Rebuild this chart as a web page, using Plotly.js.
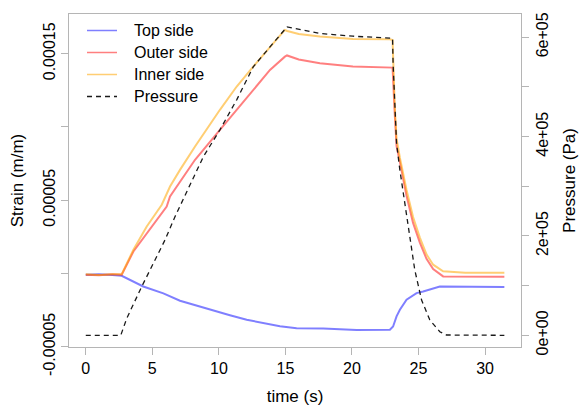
<!DOCTYPE html>
<html>
<head>
<meta charset="utf-8">
<script src="https://cdn.plot.ly/plotly-3.0.1.min.js"></script>
<style>
  html, body { margin: 0; padding: 0; background: #ffffff; }
  #chart { width: 579px; height: 410px; }
</style>
</head>
<body>
<div id="chart"></div>
<script>
// ---- Data ----
// Strain series (m/m) vs time (s)
const tTop = [0, 1, 2, 2.70, 4.32, 5.83, 7.08, 8.33, 9.58, 10.83, 12.09, 13.33, 14.59, 15.84, 17.84, 20.35, 22.85, 23.09, 23.35, 23.60, 24.10, 24.85, 25.35, 26.60, 28.5, 31.45];
const topSide = [-0.9e-6, -0.5e-6, -1.0e-6, -1.6e-6, -8.9e-6, -13.6e-6, -18.6e-6, -22.0e-6, -25.4e-6, -28.5e-6, -31.6e-6, -33.8e-6, -36.0e-6, -37.4e-6, -37.6e-6, -38.6e-6, -38.4e-6, -36.2e-6, -29.3e-6, -24.8e-6, -17.9e-6, -13.4e-6, -12.3e-6, -8.9e-6, -9.0e-6, -9.3e-6];

const tOuter = [0, 1, 2, 2.70, 3.58, 4.58, 6.08, 6.33, 8.21, 10.08, 11.34, 12.58, 13.84, 14.96, 15.12, 16.0, 17.59, 20.07, 22.85, 23.05, 23.22, 23.35, 23.60, 24.10, 24.59, 25.10, 25.60, 26.10, 26.85, 28.5, 31.45];
const outerSide = [-0.8e-6, -1.2e-6, -0.6e-6, -0.8e-6, 15.0e-6, 27.6e-6, 45.7e-6, 52.5e-6, 77.6e-6, 98.0e-6, 111.7e-6, 125.3e-6, 138.9e-6, 148.0e-6, 148.8e-6, 146.0e-6, 143.5e-6, 141.2e-6, 140.8e-6, 140.5e-6, 108.0e-6, 87.0e-6, 76.0e-6, 53.0e-6, 34.5e-6, 21.0e-6, 10.0e-6, 3.0e-6, -2.0e-6, -2.2e-6, -2.2e-6];

const tInner = [0, 1, 2, 2.70, 3.58, 4.58, 5.71, 6.33, 7.08, 8.21, 10.08, 11.34, 12.58, 13.84, 14.96, 15.14, 16.0, 17.59, 20.07, 22.85, 23.05, 23.22, 23.35, 23.60, 24.10, 24.59, 25.10, 25.60, 26.10, 26.85, 28.5, 31.45];
const innerSide = [-0.5e-6, -1.0e-6, -0.5e-6, -0.5e-6, 16.2e-6, 32.1e-6, 46.9e-6, 59.3e-6, 70.7e-6, 86.6e-6, 111.7e-6, 127.6e-6, 141.2e-6, 154.8e-6, 166.2e-6, 165.5e-6, 163.5e-6, 161.7e-6, 160.1e-6, 159.9e-6, 159.4e-6, 113.0e-6, 92.0e-6, 79.0e-6, 57.0e-6, 38.5e-6, 24.5e-6, 13.0e-6, 6.0e-6, 1.5e-6, 0.5e-6, 0.5e-6];

// Pressure (Pa) vs time (s)
const tPressure = [0, 2.63, 3.08, 4.20, 5.95, 6.70, 8.83, 10.08, 11.34, 12.58, 13.84, 15.12, 17.59, 20.07, 23.05, 23.09, 23.22, 23.35, 23.60, 23.97, 24.35, 24.72, 25.23, 25.85, 26.60, 27.10, 31.45];
const pressure = [0, 0, 34200, 97800, 191800, 238600, 359400, 413700, 474100, 540400, 580700, 621000, 607600, 602200, 598000, 547300, 466800, 386300, 332600, 265600, 198400, 131400, 71000, 30800, 7200, 600, 0];

// Axis ticks
const xTicks = [0, 5, 10, 15, 20, 25, 30];
const strainTicks = [-0.00005, 0, 0.00005, 0.0001, 0.00015];
const strainTickText = ['-0.00005', '', '0.00005', '', '0.00015'];
const pressureTicks = [0, 100000, 200000, 300000, 400000, 500000, 600000];
const pressureTickText = ['0e+00', '', '2e+05', '', '4e+05', '', '6e+05'];

const seriesNames = ['Top side', 'Outer side', 'Inner side', 'Pressure'];

// ---- Styles ----
const FONT = 'Liberation Sans, Arial, Helvetica, sans-serif';
const GRAY = '#b5b5b5';
const seriesLines = [
  { color: 'rgba(0,0,255,0.5)', width: 2 },
  { color: 'rgba(255,0,0,0.5)', width: 2 },
  { color: 'rgba(255,165,0,0.55)', width: 2 },
  { color: '#1a1a1a', width: 1.3, dash: '5px,4px' }
];

const traces = [
  { x: tTop, y: topSide, name: seriesNames[0], type: 'scatter', mode: 'lines', line: seriesLines[0], showlegend: false },
  { x: tOuter, y: outerSide, name: seriesNames[1], type: 'scatter', mode: 'lines', line: seriesLines[1], showlegend: false },
  { x: tInner, y: innerSide, name: seriesNames[2], type: 'scatter', mode: 'lines', line: seriesLines[2], showlegend: false },
  { x: tPressure, y: pressure, name: seriesNames[3], type: 'scatter', mode: 'lines', yaxis: 'y2', line: seriesLines[3], showlegend: false }
];

// Legend (drawn in the plot's top-left corner, no box), in paper coordinates
const M = { l: 69, r: 58, t: 14, b: 63 };
const W = 579, H = 410;
const plotW = W - M.l - M.r, plotH = H - M.t - M.b;
const px = v => (v - M.l) / plotW;
const py = v => (H - M.b - v) / plotH;
const legendRows = [30.5, 52.5, 74.5, 96.5];
const legendShapes = seriesNames.map((n, i) => ({
  type: 'line', xref: 'paper', yref: 'paper',
  x0: px(87), x1: px(117), y0: py(legendRows[i]), y1: py(legendRows[i]),
  line: { color: seriesLines[i].color, width: i === 3 ? 1.3 : 1.5, dash: seriesLines[i].dash || 'solid' }
}));
const legendTexts = seriesNames.map((n, i) => ({
  text: n, xref: 'paper', yref: 'paper', x: px(132), y: py(legendRows[i]),
  xanchor: 'left', yanchor: 'middle', showarrow: false,
  font: { family: FONT, size: 16, color: '#000000' }
}));

const layout = {
  width: W, height: H,
  margin: { l: M.l, r: M.r, t: M.t, b: M.b, pad: 0 },
  paper_bgcolor: '#ffffff', plot_bgcolor: '#ffffff',
  font: { family: FONT, size: 16, color: '#000000' },
  showlegend: false,
  shapes: legendShapes,
  annotations: legendTexts,
  xaxis: {
    range: [-1.26, 32.7], tickvals: xTicks, ticktext: xTicks.map(String),
    ticks: 'outside', ticklen: 7, tickcolor: GRAY, tickwidth: 1,
    showline: true, linecolor: GRAY, linewidth: 1, mirror: true,
    showgrid: false, zeroline: false,
    tickfont: { size: 16 },
    title: { text: 'time (s)', font: { size: 17 }, standoff: 13 }
  },
  yaxis: {
    range: [-5.02e-5, 1.771e-4], tickvals: strainTicks, ticktext: strainTickText,
    tickangle: -90,
    ticks: 'outside', ticklen: 7, tickcolor: GRAY, tickwidth: 1,
    showline: true, linecolor: GRAY, linewidth: 1, mirror: true,
    showgrid: false, zeroline: false,
    tickfont: { size: 16 },
    title: { text: 'Strain (m/m)', font: { size: 17 }, standoff: 12 }
  },
  yaxis2: {
    overlaying: 'y', side: 'right',
    range: [-23560, 646900], tickvals: pressureTicks, ticktext: pressureTickText,
    tickangle: -90,
    ticks: 'outside', ticklen: 7, tickcolor: GRAY, tickwidth: 1,
    showline: false, showgrid: false, zeroline: false,
    tickfont: { size: 16 },
    title: { text: 'Pressure (Pa)', font: { size: 17 }, standoff: 13 }
  }
};

Plotly.newPlot('chart', traces, layout, { staticPlot: true, displayModeBar: false });
</script>
</body>
</html>
